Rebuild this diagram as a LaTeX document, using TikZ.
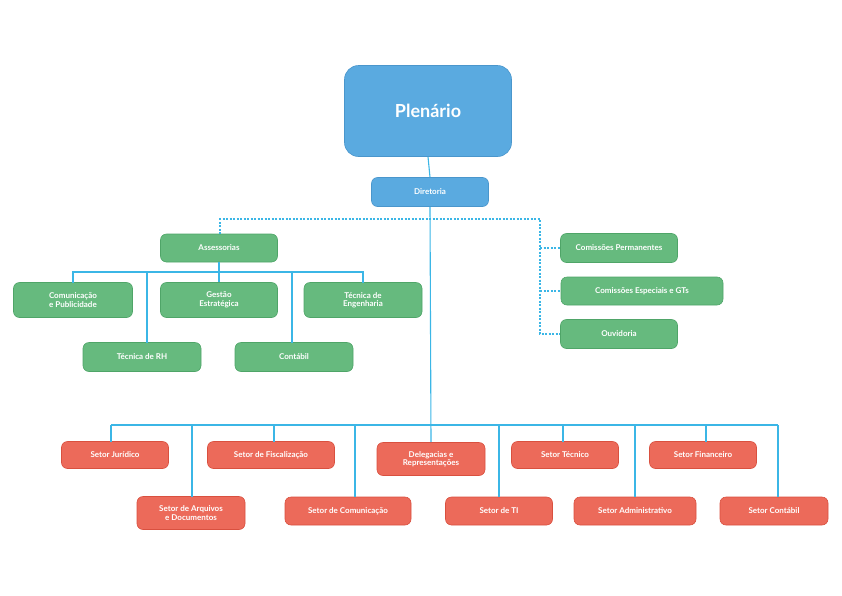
\documentclass[tikz,border=0pt]{standalone}
\usepackage{fontspec}
\setmainfont{Lato}
\begin{document}
\definecolor{bl}{HTML}{5AAAE0}
\definecolor{bld}{HTML}{4A96CC}
\definecolor{gr}{HTML}{66BA7E}
\definecolor{grd}{HTML}{4FA568}
\definecolor{rd}{HTML}{EC6A5A}
\definecolor{rdd}{HTML}{D9503F}
\definecolor{ln}{HTML}{3BB6E6}
\begin{tikzpicture}[x=1pt,y=-1pt,
  box/.style={rounded corners=6pt,text=white,font=\fontsize{8}{8.5}\selectfont\bfseries,align=center,inner sep=0pt,line width=0.6pt},
  g/.style={box,fill=gr,draw=grd},
  r/.style={box,fill=rd,draw=rdd},
  b/.style={box,fill=bl,draw=bld},
  l/.style={draw=ln,line width=1.1pt},
  d/.style={draw=ln,line width=1.1pt,dash pattern=on 2pt off 1.5pt}]
\useasboundingbox (0,0) rectangle (842,595);
\node[b,minimum width=167pt,minimum height=91pt,rounded corners=14pt,font=\fontsize{18}{20}\selectfont\bfseries] (pl) at (428,111) {Plenário};
\node[b,minimum width=117pt,minimum height=29pt] (di) at (430,192) {Diretoria};
% green
\node[g,minimum width=117pt,minimum height=28pt] (as) at (219,248) {Assessorias};
\node[g,minimum width=119pt,minimum height=35pt] (cp) at (73,300) {Comunicação\\e Publicidade};
\node[g,minimum width=117pt,minimum height=35pt] (ge) at (219,300) {Gestão\\Estratégica};
\node[g,minimum width=118pt,minimum height=35pt] (te) at (363,300) {Técnica de\\Engenharia};
\node[g,minimum width=118pt,minimum height=29pt] (rh) at (142,357) {Técnica de RH};
\node[g,minimum width=118pt,minimum height=29pt] (co) at (294,357) {Contábil};
\node[g,minimum width=117pt,minimum height=29pt] (cpe) at (619,248) {Comissões Permanentes};
\node[g,minimum width=162pt,minimum height=28pt] (ces) at (642,291) {Comissões Especiais e GTs};
\node[g,minimum width=117pt,minimum height=29pt] (ou) at (619,334) {Ouvidoria};
% red
\node[r,minimum width=107pt,minimum height=27pt] (sj) at (115,455) {Setor Jurídico};
\node[r,minimum width=127pt,minimum height=27pt] (sf) at (271,455) {Setor de Fiscalização};
\node[r,minimum width=108pt,minimum height=33pt] (dr) at (431,459) {Delegacias e\\Representações};
\node[r,minimum width=107pt,minimum height=27pt] (st) at (565,455) {Setor Técnico};
\node[r,minimum width=107pt,minimum height=27pt] (sfi) at (703,455) {Setor Financeiro};
\node[r,minimum width=108pt,minimum height=33pt] (sa) at (191,513) {Setor de Arquivos\\e Documentos};
\node[r,minimum width=126pt,minimum height=28pt] (sc) at (348,511) {Setor de Comunicação};
\node[r,minimum width=107pt,minimum height=28pt] (sti) at (499,511) {Setor de TI};
\node[r,minimum width=122pt,minimum height=28pt] (sad) at (635,511) {Setor Administrativo};
\node[r,minimum width=108pt,minimum height=28pt] (sco) at (774,511) {Setor Contábil};
% lines
\path[l] (pl.south) -- (di.north);
\path[l] (di.south) -- (dr.north);
\path[l] (111,425) -- (778,425);
\foreach \x/\n in {111/sj,274/sf,563/st,706/sfi}{\path[l] (\x,425) -- (\x,441.5);}
\foreach \x/\n in {192/sa,355/sc,499/sti,635/sad,778/sco}{\path[l] (\x,425) -- (\x,497);}
\path[d] (220,234) -- (220,219) -- (540,219) -- (540,334) -- (ou.west);
\path[d] (540,248) -- (cpe.west);
\path[d] (540,291) -- (ces.west);
\path[l] (as.south) -- (219,272);
\path[l] (73,283) -- (73,272) -- (363,272) -- (363,283);
\path[l] (219,272) -- (ge.north);
\path[l] (147,272) -- (147,343);
\path[l] (292,272) -- (292,343);
\end{tikzpicture}
\end{document}
